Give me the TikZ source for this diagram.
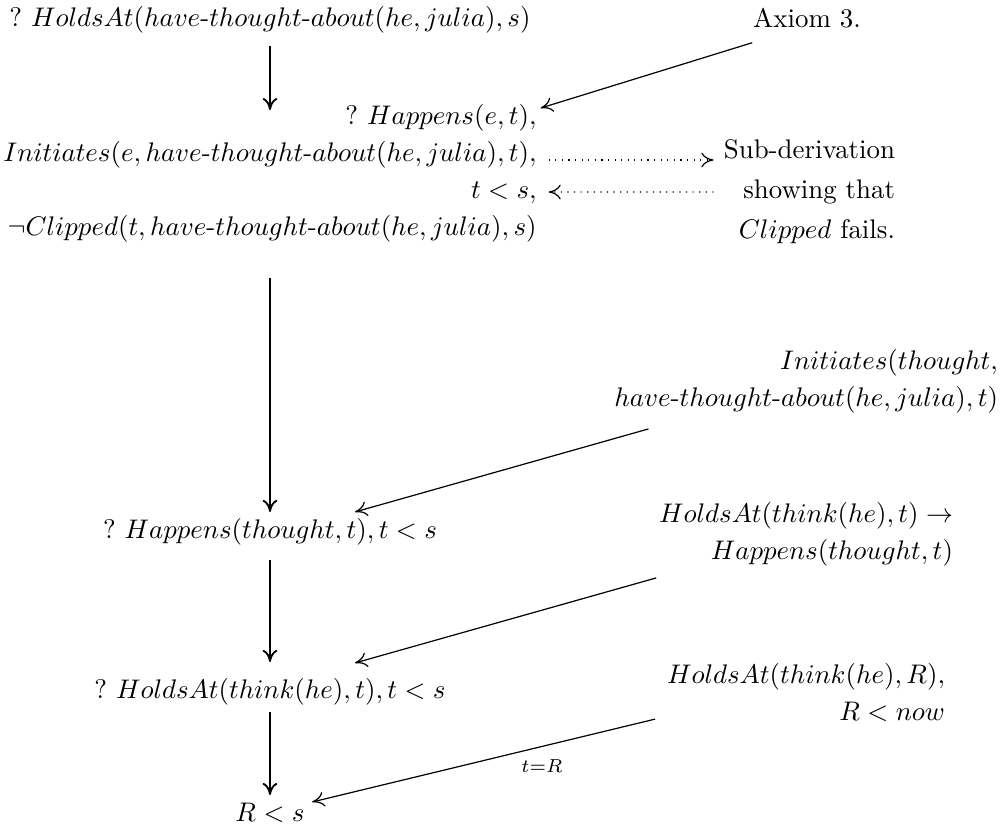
\documentclass[tikz,border=0pt]{standalone}
\usetikzlibrary{calc,arrows.meta}
\newcommand{\mhy}{\mbox{-}}
\begin{document}
\begin{tikzpicture}[x=0.372pt,y=-0.372pt,
  every node/.style={inner sep=0pt,outer sep=0pt},
  mtext/.style={font=\fontsize{10}{13.76}\selectfont},
  rblock/.style={mtext,align=right},
  conn/.style={line width=0.45pt,-{To[length=4.5pt,width=5.5pt]}},
  vconn/.style={conn,line width=0.7pt},
  dconn/.style={conn,dotted},
]
\useasboundingbox (0,0) rectangle (1002,825);

\node[mtext] (n1) at (270,20) {$?\ HoldsAt(have\mhy thought\mhy about(he,julia),s)$};
\node[mtext] (ax) at (807,18) {Axiom 3.};
\node[rblock] (b2) at (270,173.5) {$?\ Happens(e,t),$\\
  $Initiates(e,have\mhy thought\mhy about(he,julia),t),$\\
  $t<s,$\\
  $\neg Clipped(t,have\mhy thought\mhy about(he,julia),s)$};
\node[align=right,font=\fontsize{10}{14.9}\selectfont,anchor=east] (sub) at (895,192)
  {Sub-derivation\\showing that\\$Clipped$ fails.};
\node[rblock,anchor=east] (ini) at (998,381) {$Initiates(thought,$\\
  $have\mhy thought\mhy about(he,julia),t)$};
\node[mtext] (n3) at (270,532) {$?\ Happens(thought,t),t<s$};
\node[rblock,anchor=east] (ha) at (953,534) {$HoldsAt(think(he),t)\rightarrow$\\
  $Happens(thought,t)$};
\node[mtext] (n4) at (270,692) {$?\ HoldsAt(think(he),t),t<s$};
\node[rblock,anchor=east] (hr) at (945,692.5) {$HoldsAt(think(he),R),$\\
  $R<now$};
\node[mtext] (n5) at (270,813) {$R<s$};

% vertical derivation arrows
\draw[vconn] ($(n1.south)+(0,12.6)$) -- ($(b2.north)+(0,5.5)$);
\draw[vconn] ($(b2.south)+(0,35.5)$) -- ($(n3.north)+(0,-6.6)$);
\draw[vconn] ($(n3.south)+(0,14.6)$) -- ($(n4.north)+(0,-16.6)$);
\draw[vconn] ($(n4.south)+(0,6.6)$) -- ($(n5.north)+(0,-8.3)$);

% axiom arrows
\draw[conn] ($(ax.south west)+(-1,14.8)$) -- ($(b2.north east)+(4,3.5)$);
\draw[conn] ($(ini.south west)+(34,16)$) -- ($(n3.north)+(85,-6.6)$);
\draw[conn] ($(ha.south west)+(-3,12)$) -- ($(n4.north)+(85,-15.6)$);
\draw[conn] ($(hr.south west)+(-12,-2.5)$) -- node[pos=0.33,below=5pt]{$\scriptstyle t=R$} ($(n5.east)+(7.6,-11)$);

% sub-derivation
\draw[dconn] ($(b2.east)+(12,-13.5)$) -- ($(sub.west)+(-10.4,-32)$);
\draw[dconn] ($(sub.west)+(-10.4,0)$) -- ($(b2.east)+(12,18.5)$);
\end{tikzpicture}
\end{document}
